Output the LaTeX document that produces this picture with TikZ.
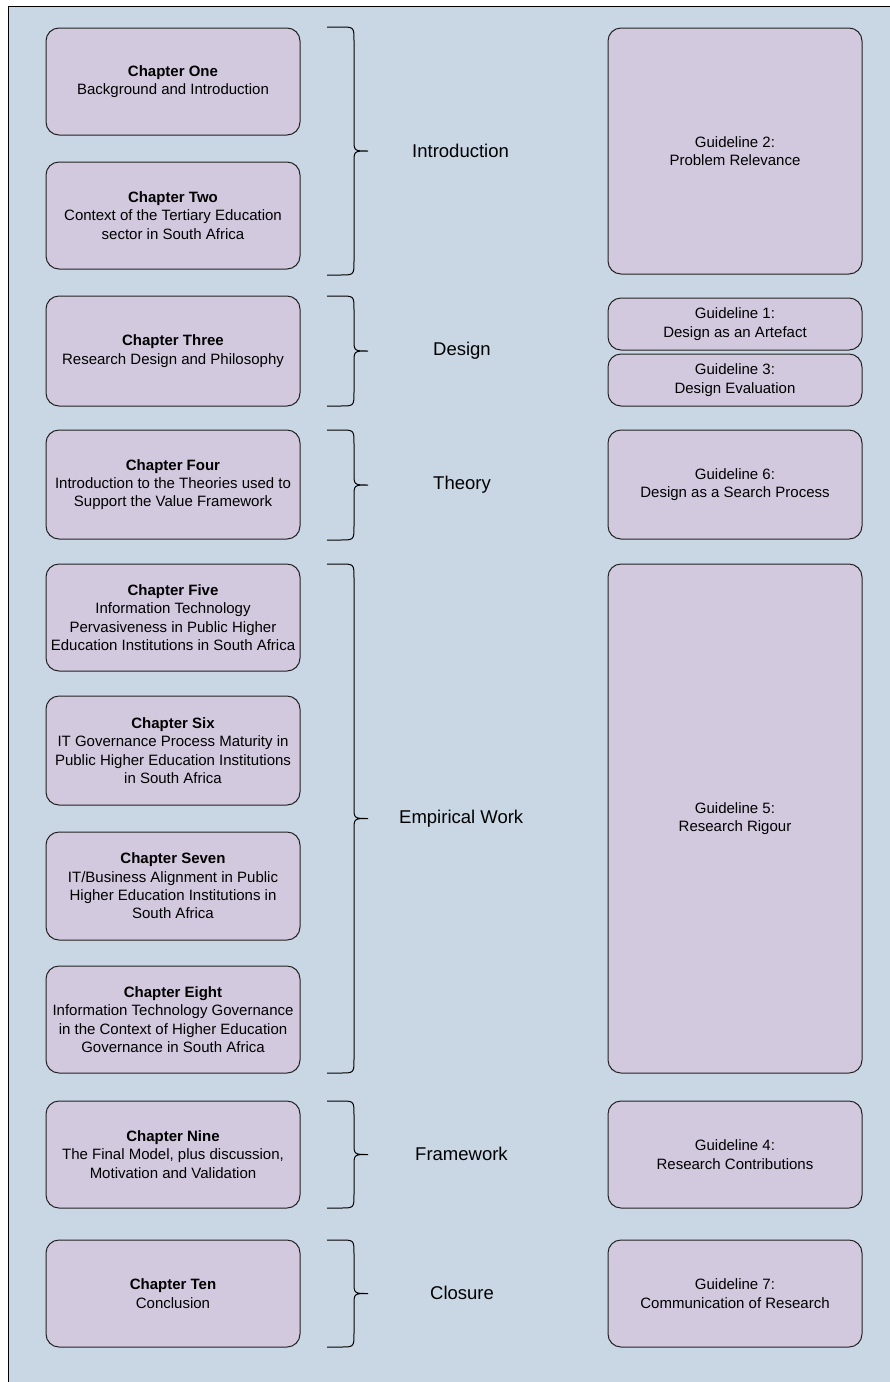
\documentclass[tikz,border=0pt]{standalone}
\usepackage{fontspec}
\setmainfont{Liberation Sans}
\definecolor{bgblue}{RGB}{201,215,229}
\definecolor{boxfill}{RGB}{211,201,223}
\definecolor{boxline}{RGB}{34,34,34}
\tikzset{
  box/.style={draw=boxline, line width=1pt, fill=boxfill, rounded corners=13pt,
    inner sep=0pt, align=center, minimum width=254pt,
    font=\fontsize{15}{18.3}\selectfont},
  grp/.style={font=\fontsize{18.5}{22}\selectfont, anchor=west, inner sep=0pt},
  brc/.style={draw=black, line width=1pt}
}
\newcommand\mybrace[2]{% top, bottom
  \pgfmathsetmacro\bmid{(#1+#2)/2}
  \draw[brc] (327,#1) -- (340,#1) .. controls (354,#1) .. (354,#1+14)
    -- (354,\bmid-12) .. controls (354,\bmid) .. (368,\bmid)
    .. controls (354,\bmid) .. (354,\bmid+12)
    -- (354,#2-14) .. controls (354,#2) .. (340,#2) -- (327,#2);
}
\begin{document}
\begin{tikzpicture}[x=1pt,y=-1pt]
\clip (0,0) rectangle (890,1382);
\fill[white] (0,0) rectangle (890,1382);
\draw[fill=bgblue, line width=1.3pt, draw=black] (8.5,6.5) rectangle (900,1400);

% left column
\node[box, minimum height=107pt] (c1) at (173,81.5) {\textbf{Chapter One}\\Background and Introduction};
\node[box, minimum height=107pt] (c2) at (173,215.5) {\textbf{Chapter Two}\\Context of the Tertiary Education\\sector in South Africa};
\node[box, minimum height=110pt] (c3) at (173,351) {\textbf{Chapter Three}\\Research Design and Philosophy};
\node[box, minimum height=109pt] (c4) at (173,484.5) {\textbf{Chapter Four}\\Introduction to the Theories used to\\Support the Value Framework};
\node[box, minimum height=107pt] (c5) at (173,617.5) {\textbf{Chapter Five}\\Information Technology\\Pervasiveness in Public Higher\\Education Institutions in South Africa};
\node[box, minimum height=109pt] (c6) at (173,750.5) {\textbf{Chapter Six}\\IT Governance Process Maturity in\\Public Higher Education Institutions\\in South Africa};
\node[box, minimum height=108pt] (c7) at (173,886) {\textbf{Chapter Seven}\\IT/Business Alignment in Public\\Higher Education Institutions in\\South Africa};
\node[box, minimum height=107pt] (c8) at (173,1019.5) {\textbf{Chapter Eight}\\Information Technology Governance\\in the Context of Higher Education\\Governance in South Africa};
\node[box, minimum height=107pt] (c9) at (173,1154.5) {\textbf{Chapter Nine}\\The Final Model, plus discussion,\\Motivation and Validation};
\node[box, minimum height=107pt] (c10) at (173,1293.5) {\textbf{Chapter Ten}\\Conclusion};

% braces
\mybrace{27}{275}
\mybrace{296}{406}
\mybrace{430}{540}
\mybrace{564}{1073}
\mybrace{1101}{1208}
\mybrace{1240}{1347}

% group labels
\node[grp] (lintro) at (412,151) {Introduction};
\node[grp] (ldesign) at (433,351) {Design};
\node[grp] (ltheory) at (433,485) {Theory};
\node[grp] (lemp) at (399,819) {Empirical Work};
\node[grp] (lframe) at (415,1154) {Framework};
\node[grp] (lclose) at (430,1293) {Closure};

% right column
\node[box, minimum height=246pt] (g2) at (735,151) {Guideline 2:\\Problem Relevance};
\node[box, minimum height=52pt] (g1) at (735,324) {Guideline 1:\\Design as an Artefact};
\node[box, minimum height=52pt] (g3) at (735,380) {Guideline 3:\\Design Evaluation};
\node[box, minimum height=109pt] (g6) at (735,484.5) {Guideline 6:\\Design as a Search Process};
\node[box, minimum height=509pt] (g5) at (735,818.5) {Guideline 5:\\Research Rigour};
\node[box, minimum height=107pt] (g4) at (735,1154.5) {Guideline 4:\\Research Contributions};
\node[box, minimum height=107pt] (g7) at (735,1293.5) {Guideline 7:\\Communication of Research};
\end{tikzpicture}
\end{document}
